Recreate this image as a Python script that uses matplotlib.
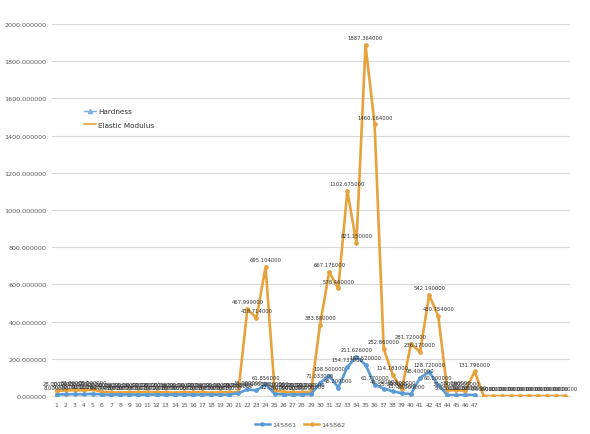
import matplotlib
matplotlib.use("Agg")
import matplotlib.pyplot as plt
from matplotlib.lines import Line2D

# Category positions (57 samples, only 1..47 carry a tick label)
categories = list(range(1, 58))
tick_labels = [str(i) for i in range(1, 48)] + [""] * 10

# Hardness (series 145861), 47 samples
hardness = [8, 9, 10, 9, 12, 8, 7, 8, 8, 7,
            8, 8, 7, 8, 8, 7, 8, 8, 7, 8,
            15, 35, 30, 61.856, 12, 8, 8, 8, 10, 71.033,
            108.5, 45.2, 154.737, 211.626, 167.52, 61.77, 40, 25, 15, 10,
            98.4, 128.72, 60, 5, 5, 6, 6]

# Elastic Modulus (series 145862), 57 samples
modulus = [28, 30, 32, 30, 35, 22, 20, 18, 20, 20,
           22, 20, 20, 18, 20, 20, 20, 18, 20, 20,
           22, 467.999, 418.714, 695.104, 30, 22, 20, 20, 22, 383.88,
           667.176, 578.46, 1102.675, 821.15, 1887.364, 1460.164, 252.86, 114.181, 35.6, 281.72,
           236.17, 542.19, 430.754, 30, 32, 28, 131.796, 0, 0, 0,
           0, 0, 0, 0, 0, 0, 0]

y_ticks = [0, 200, 400, 600, 800, 1000, 1200, 1400, 1600, 1800, 2000]

BLUE = "#5B9BD5"
ORANGE = "#E6A23C"
LABEL_C = "#333333"

fig = plt.figure(figsize=(5.9, 4.35), dpi=100)
ax = fig.add_axes([52 / 590, 1 - 397 / 435, 518 / 590, 372 / 435])

x_h = categories[:len(hardness)]
x_m = categories[:len(modulus)]

ax.plot(x_m, modulus, color=ORANGE, lw=1.9, marker="o", ms=2.4, zorder=3)
ax.plot(x_h, hardness, color=BLUE, lw=1.9, marker="o", ms=2.4, zorder=4)

# value labels above every point
for xs, ys in ((x_h, hardness), (x_m, modulus)):
    for xv, yv in zip(xs, ys):
        ax.annotate(f"{yv:.6f}", (xv, yv), xytext=(0, 3.5), textcoords="offset points",
                    ha="center", va="bottom", fontsize=3.8, color=LABEL_C, zorder=5)

ax.set_xlim(0.5, 57.5)
ax.set_ylim(0, 2000)
ax.set_yticks(y_ticks)
ax.set_yticklabels([f"{v:.6f}" for v in y_ticks], fontsize=4.6, color="#595959")
ax.set_xticks(categories)
ax.set_xticklabels(tick_labels, fontsize=4.4, color="#595959")
ax.tick_params(axis="both", length=0, pad=4)
ax.grid(axis="y", color="#D9D9D9", lw=0.8)
ax.set_axisbelow(True)
for side in ("top", "right", "left"):
    ax.spines[side].set_visible(False)
ax.spines["bottom"].set_color("#D9D9D9")

# inner legend with property names
inner = [Line2D([], [], color="#7FB2E0", lw=1.0, marker="^", ms=3),
         Line2D([], [], color=ORANGE, lw=1.2)]
leg1 = ax.legend(inner, ["Hardness", "Elastic Modulus"], loc="upper left",
                 bbox_to_anchor=((75 - 52) / 518, (397 - 100) / 372),
                 fontsize=5.2, frameon=True, facecolor="white", edgecolor="white",
                 handlelength=1.6, handletextpad=0.3, labelspacing=1.0,
                 borderpad=0.8, fancybox=False)
for t in leg1.get_texts():
    t.set_color("#404040")
ax.add_artist(leg1)

# series legend under the axis
outer = [Line2D([], [], color=BLUE, lw=1.8, marker="o", ms=2.2),
         Line2D([], [], color=ORANGE, lw=1.8, marker="o", ms=2.2)]
leg2 = fig.legend(outer, ["145861", "145862"], loc="center",
                  bbox_to_anchor=(300 / 590, 1 - 425 / 435), ncol=2,
                  fontsize=4.6, frameon=False, handlelength=2.4,
                  handletextpad=0.3, columnspacing=1.2)
for t in leg2.get_texts():
    t.set_color("#595959")

fig.savefig("out.png", dpi=100, facecolor="white")
